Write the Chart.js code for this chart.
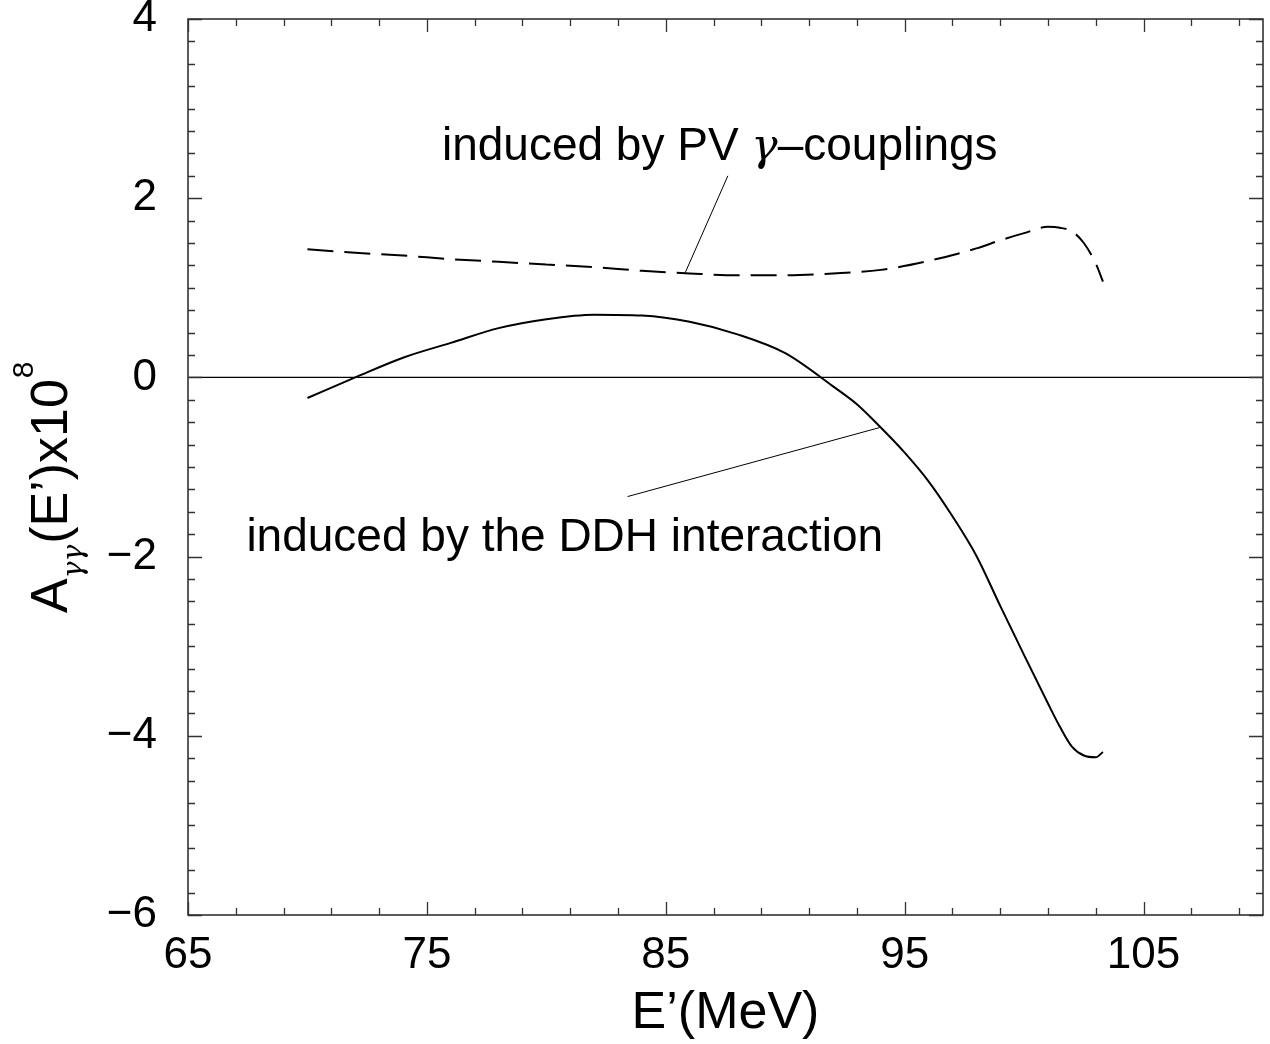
<!DOCTYPE html>
<html>
<head>
<meta charset="utf-8">
<script src="https://cdn.jsdelivr.net/npm/chart.js@4.4.1/dist/chart.umd.min.js"></script>
<style>
  html, body { margin: 0; padding: 0; background: #fff; }
  #wrap { width: 1270px; height: 1044px; }
</style>
</head>
<body>
<div id="wrap"><canvas id="c" width="1270" height="1044"></canvas></div>
<script>
// ---- data ----
const ddhE = [70, 72, 74, 76, 78, 80, 82, 84, 86, 88, 90, 92, 93, 94, 95, 96, 97, 98, 99, 100, 101, 101.5, 102, 102.5, 103, 103.3];
const ddhA = [-0.23, 0.0, 0.22, 0.385, 0.55, 0.65, 0.70, 0.69, 0.62, 0.48, 0.27, -0.10, -0.30, -0.56, -0.84, -1.16, -1.55, -1.99, -2.55, -3.10, -3.64, -3.90, -4.12, -4.22, -4.24, -4.18];

const pvE = [70, 72, 74, 76, 78, 80, 82, 84, 86, 88, 90, 92, 94, 96, 98, 99, 100, 101, 101.5, 102, 102.5, 103, 103.3];
const pvA = [1.43, 1.39, 1.36, 1.32, 1.29, 1.26, 1.23, 1.19, 1.16, 1.14, 1.14, 1.16, 1.20, 1.30, 1.44, 1.53, 1.61, 1.68, 1.67, 1.63, 1.50, 1.27, 1.07];

const zeroE = [65, 110];
const zeroA = [0, 0];

// annotation leader lines (data coordinates)
const pvLeaderE = [87.6, 85.8];
const pvLeaderA = [2.25, 1.16];
const ddhLeaderE = [83.4, 93.95];
const ddhLeaderA = [-1.33, -0.56];

// annotation labels (pieces: [text, isGreek])
const annotParts = [
  [['induced by PV ', false], ['\u03B3', true], ['\u2013couplings', false]],
  [['induced by the DDH interaction', false]]
];
const annotE = [87.26, 80.77];
const annotA = [2.43, -1.94];

// axes
const xMin = 65, xMax = 110;
const yMin = -6, yMax = 4;
const xTickVals = [65,67,69,71,73,75,77,79,81,83,85,87,89,91,93,95,97,99,101,103,105,107,109];
const xLabelVals = [65, 75, 85, 95, 105];
const xLabelText = ['65', '75', '85', '95', '105'];
const yTickVals = [];
for (let i = 0; i <= 40; i++) yTickVals.push(-6 + i * 0.25);
const yLabelVals = [-6, -4, -2, 0, 2, 4];
const yLabelText = ['\u22126', '\u22124', '\u22122', '0', '2', '4'];
const xTitle = 'E\u2019(MeV)';

const FONT = '"Liberation Sans", Arial, Helvetica, sans-serif';
const GREEK = '"DejaVu Serif", "Liberation Serif", serif';
const zip = (xs, ys) => xs.map((x, i) => ({x: x, y: ys[i]}));

const framePlugin = {
  id: 'frame',
  afterDatasetsDraw(chart) {
    const ctx = chart.ctx;
    const a = chart.chartArea;
    const xs = chart.scales.x, ys = chart.scales.y;
    ctx.save();
    // ticks (inward, all four sides)
    ctx.strokeStyle = '#333';
    ctx.lineWidth = 1.3;
    ctx.beginPath();
    xTickVals.forEach(v => {
      const px = Math.round(xs.getPixelForValue(v)) + 0.5;
      const len = xLabelVals.includes(v) ? 13 : 7;
      ctx.moveTo(px, a.bottom); ctx.lineTo(px, a.bottom - len);
      ctx.moveTo(px, a.top); ctx.lineTo(px, a.top + len);
    });
    yTickVals.forEach(v => {
      const py = Math.round(ys.getPixelForValue(v)) + 0.5;
      const major = yLabelVals.some(l => Math.abs(l - v) < 1e-9);
      const len = major ? 14 : 7;
      ctx.moveTo(a.left, py); ctx.lineTo(a.left + len, py);
      ctx.moveTo(a.right, py); ctx.lineTo(a.right - len, py);
    });
    ctx.stroke();
    // frame
    ctx.lineWidth = 1.6;
    ctx.strokeStyle = '#333';
    ctx.strokeRect(a.left, a.top, a.right - a.left, a.bottom - a.top);

    // annotation texts
    ctx.fillStyle = '#000';
    ctx.textAlign = 'left';
    ctx.textBaseline = 'alphabetic';
    const fontFor = g => g ? 'italic 44px ' + GREEK : '46px ' + FONT;
    annotParts.forEach((parts, i) => {
      let total = 0;
      parts.forEach(p => { ctx.font = fontFor(p[1]); total += ctx.measureText(p[0]).width; });
      let x = xs.getPixelForValue(annotE[i]) - total / 2;
      const y = ys.getPixelForValue(annotA[i]);
      parts.forEach(p => { ctx.font = fontFor(p[1]); ctx.fillText(p[0], x, y); x += ctx.measureText(p[0]).width; });
    });

    // y axis title with subscript / superscript
    ctx.translate(67, 613);
    ctx.rotate(-Math.PI / 2);
    let cx = 0;
    ctx.font = '52px ' + FONT;
    ctx.fillText('A', cx, 0); cx += ctx.measureText('A').width;
    ctx.font = 'italic 28px ' + GREEK;
    ctx.fillText('\u03B3\u03B3', cx, 15); cx += ctx.measureText('\u03B3\u03B3').width + 1;
    ctx.font = '52px ' + FONT;
    const mid = '(E\u2019)x10';
    ctx.fillText(mid, cx, 0); cx += ctx.measureText(mid).width + 1;
    ctx.font = '30px ' + FONT;
    ctx.fillText('8', cx, -34);
    ctx.restore();
  }
};

new Chart(document.getElementById('c'), {
  type: 'line',
  data: {
    datasets: [
      { data: zip(ddhE, ddhA), borderColor: '#000', borderWidth: 2, pointRadius: 0, cubicInterpolationMode: 'monotone', fill: false },
      { data: zip(pvE, pvA), borderColor: '#000', borderWidth: 2, borderDash: [26, 11], pointRadius: 0, cubicInterpolationMode: 'monotone', fill: false },
      { data: zip(zeroE, zeroA), borderColor: '#000', borderWidth: 1.3, pointRadius: 0, tension: 0, fill: false },
      { data: zip(pvLeaderE, pvLeaderA), borderColor: '#000', borderWidth: 1, pointRadius: 0, tension: 0, fill: false },
      { data: zip(ddhLeaderE, ddhLeaderA), borderColor: '#000', borderWidth: 1, pointRadius: 0, tension: 0, fill: false }
    ]
  },
  options: {
    responsive: false,
    animation: false,
    events: [],
    layout: { padding: { top: 19, right: 7, left: 0, bottom: 0 } },
    plugins: { legend: { display: false }, tooltip: { enabled: false } },
    scales: {
      x: {
        type: 'linear', min: xMin, max: xMax,
        afterBuildTicks: s => { s.ticks = xTickVals.map(v => ({ value: v })); },
        afterFit: s => { s.height = 129; s.paddingLeft = 0; s.paddingRight = 0; },
        grid: { display: false, drawTicks: false },
        border: { display: false },
        ticks: {
          autoSkip: false, maxRotation: 0, minRotation: 0, padding: 14, color: '#000',
          font: { family: FONT, size: 44 },
          callback: v => { const i = xLabelVals.indexOf(v); return i >= 0 ? xLabelText[i] : ''; }
        },
        title: { display: true, text: xTitle, color: '#000', font: { family: FONT, size: 52, lineHeight: 1 }, padding: { top: 0, bottom: 4 } }
      },
      y: {
        type: 'linear', min: yMin, max: yMax,
        afterBuildTicks: s => { s.ticks = yTickVals.map(v => ({ value: v })); },
        afterFit: s => { s.width = 188; s.paddingTop = 0; s.paddingBottom = 0; },
        grid: { display: false, drawTicks: false },
        border: { display: false },
        ticks: {
          autoSkip: false, padding: 31, color: '#000',
          font: { family: FONT, size: 44 },
          callback: v => { const i = yLabelVals.findIndex(l => Math.abs(l - v) < 1e-9); return i >= 0 ? yLabelText[i] : ''; }
        }
      }
    }
  },
  plugins: [framePlugin]
});
</script>
</body>
</html>
